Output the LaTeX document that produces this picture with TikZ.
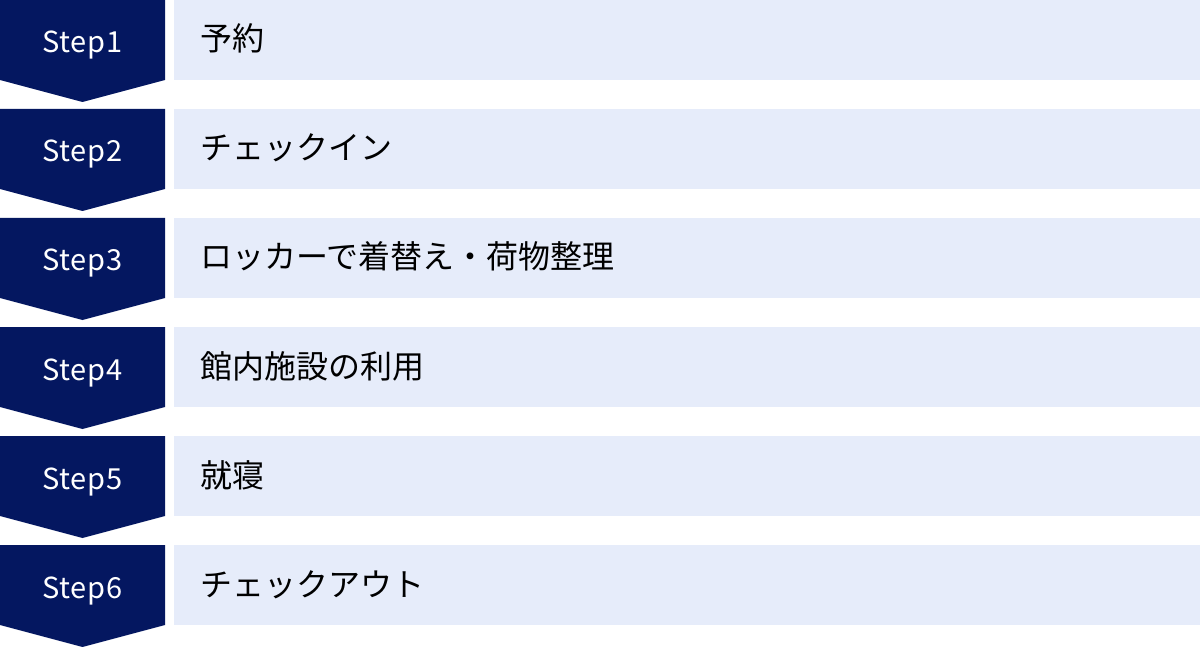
\documentclass[tikz,border=0pt]{standalone}
\usepackage{fontspec}
\setmainfont{Noto Sans CJK JP}
\newfontfamily\stepfont[LetterSpace=3]{Noto Sans CJK JP}
\definecolor{navy}{RGB}{4,23,96}
\definecolor{lightbg}{RGB}{230,236,250}
\begin{document}
\begin{tikzpicture}[x=1pt,y=-1pt,
  stepshape/.style={fill=navy,draw=none},
  contentbox/.style={fill=lightbg,draw=none},
  steplabel/.style={text=white,font=\stepfont\fontsize{29}{32}\selectfont,anchor=base,inner sep=0pt},
  contentlabel/.style={text=black,font=\fontsize{32}{36}\selectfont,anchor=base west,inner sep=0pt}]
\useasboundingbox (0,0) rectangle (1200,647);
\foreach \i/\txt [count=\n from 0] in {1/予約,2/チェックイン,3/ロッカーで着替え・荷物整理,4/館内施設の利用,5/就寝,6/チェックアウト}{
  \pgfmathsetmacro{\t}{109*\n}
  \fill[stepshape] (0,\t) -- (165,\t) -- (165,\t+80) -- (82.5,\t+102) -- (0,\t+80) -- cycle;
  \fill[contentbox] (174,\t) rectangle (1200,\t+80);
  \node[steplabel] (s\i) at (82.5,\t+53) {Step\i};
  \node[contentlabel] (c\i) at (200,\t+51) {\txt};
}
\end{tikzpicture}
\end{document}
